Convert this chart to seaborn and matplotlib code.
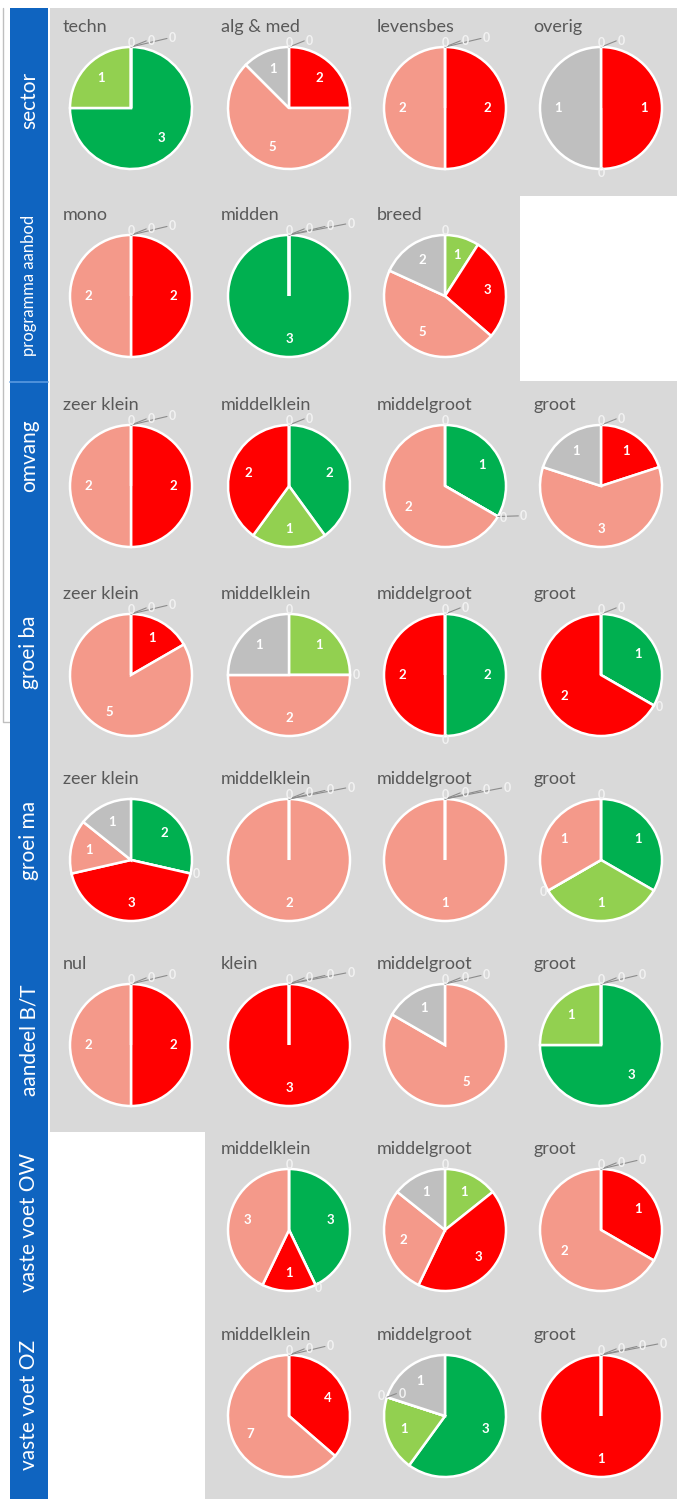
import matplotlib

matplotlib.use("Agg")
import numpy
import seaborn as sea
from matplotlib import pyplot
from matplotlib.lines import Line2D
from matplotlib.patches import Rectangle

# slice order, clockwise from 12 o'clock
slice_colors = ["#00B050", "#92D050", "#FF0000", "#F4998A", "#BFBFBF"]

sector_titles = ["techn", "alg & med", "levensbes", "overig"]
sector_counts = [[3, 1, 0, 0, 0], [0, 0, 2, 5, 1], [0, 0, 2, 2, 0], [0, 0, 1, 0, 1]]

aanbod_titles = ["mono", "midden", "breed"]
aanbod_counts = [[0, 0, 2, 2, 0], [3, 0, 0, 0, 0], [0, 1, 3, 5, 2]]

omvang_titles = ["zeer klein", "middelklein", "middelgroot", "groot"]
omvang_counts = [[0, 0, 2, 2, 0], [2, 1, 2, 0, 0], [1, 0, 0, 2, 0], [0, 0, 1, 3, 1]]

groei_ba_titles = ["zeer klein", "middelklein", "middelgroot", "groot"]
groei_ba_counts = [[0, 0, 1, 5, 0], [0, 1, 0, 2, 1], [2, 0, 2, 0, 0], [1, 0, 2, 0, 0]]

groei_ma_titles = ["zeer klein", "middelklein", "middelgroot", "groot"]
groei_ma_counts = [[2, 0, 3, 1, 1], [0, 0, 0, 2, 0], [0, 0, 0, 1, 0], [1, 1, 0, 1, 0]]

aandeel_titles = ["nul", "klein", "middelgroot", "groot"]
aandeel_counts = [[0, 0, 2, 2, 0], [0, 0, 3, 0, 0], [0, 0, 0, 5, 1], [3, 1, 0, 0, 0]]

voet_ow_titles = ["middelklein", "middelgroot", "groot"]
voet_ow_counts = [[3, 0, 1, 3, 0], [0, 1, 3, 2, 1], [0, 0, 1, 2, 0]]

voet_oz_titles = ["middelklein", "middelgroot", "groot"]
voet_oz_counts = [[0, 0, 4, 7, 0], [3, 1, 0, 0, 1], [0, 0, 1, 0, 0]]

rows = [
    ("sector", 0, sector_titles, sector_counts),
    ("programma aanbod", 0, aanbod_titles, aanbod_counts),
    ("omvang", 0, omvang_titles, omvang_counts),
    ("groei ba", 0, groei_ba_titles, groei_ba_counts),
    ("groei ma", 0, groei_ma_titles, groei_ma_counts),
    ("aandeel B/T", 0, aandeel_titles, aandeel_counts),
    ("vaste voet OW", 1, voet_ow_titles, voet_ow_counts),
    ("vaste voet OZ", 1, voet_oz_titles, voet_oz_counts),
]

# layout in pixels (top-left origin)
W, H = 684, 1499
R = 61
col_x = [131, 289, 445, 601]
row_y = [108, 296, 486, 675, 860, 1045, 1230, 1416]
label_y = [100, 285, 456, 652, 840, 1040, 1222, 1405]

sea.set_style("white")
pyplot.rcParams["font.family"] = ["Lato", "DejaVu Sans"]


def rect(x0, y0, x1, y1, **kw):
    return Rectangle((x0 / W, 1 - y1 / H), (x1 - x0) / W, (y1 - y0) / H,
                     zorder=-5, **kw)


def draw_pie(figure, cx, cy, title, counts):
    half = 90
    axis = figure.add_axes(
        [(cx - half) / W, 1 - (cy + half) / H, 2 * half / W, 2 * half / H]
    )
    axis.patch.set_alpha(0)
    wedges, _ = axis.pie(
        counts,
        colors=slice_colors,
        startangle=90,
        counterclock=False,
        wedgeprops=dict(edgecolor="white", linewidth=1.8),
    )
    lim = half / R
    axis.set_xlim(-lim, lim)
    axis.set_ylim(-lim, lim)
    axis.axis("off")

    groups = {}
    for w, value in zip(wedges, counts):
        span = w.theta2 - w.theta1
        if abs(span - 360) < 1e-6:
            # keep the radial seam at 12 o'clock like Excel
            w.set_theta2(w.theta2 - 0.01)
        if value > 0:
            mid = numpy.deg2rad((w.theta1 + w.theta2) / 2)
            axis.text(0.7 * numpy.cos(mid), 0.7 * numpy.sin(mid), str(value),
                      ha="center", va="center", color="white",
                      fontsize=9.5, fontweight="bold")
        else:
            a = numpy.deg2rad(w.theta1)
            key = (round(numpy.cos(a), 3), round(numpy.sin(a), 3))
            groups.setdefault(key, []).append(value)

    # zero-valued slices: labels stacked to the right with leader lines
    for (c, s), values in groups.items():
        for k, value in enumerate(values):
            x = 1.1 * c + 0.34 * k
            y = 1.06 * s + 0.04 * k
            if k > 0:
                axis.add_line(Line2D([c, x - 0.09], [s, y], color="#8C8C8C",
                                     lw=0.8, clip_on=False))
            axis.text(x, y, str(value), ha="center", va="center",
                      color="#F2F2F2", fontsize=9, fontweight="bold",
                      clip_on=False)

    figure.text((cx - 68) / W, 1 - (cy - 81) / H, title, ha="left",
                va="center", color="#595959", fontsize=13)


figure = pyplot.figure(figsize=(W / 100, H / 100), dpi=100)
figure.patch.set_facecolor("white")

# outer frame, grey panel, blank cells
figure.add_artist(Line2D([3 / W, 3 / W, 10 / W], [1 - 8 / H, 1 - 722 / H, 1 - 722 / H],
                         color="#BFBFBF", lw=1, zorder=-6))
figure.add_artist(rect(50, 8, 677, 1499, facecolor="#D9D9D9", edgecolor="none"))
figure.add_artist(rect(520, 196, 677, 381, facecolor="white", edgecolor="none"))
figure.add_artist(rect(50, 1132, 205, 1499, facecolor="white", edgecolor="none"))

# blue row header strip
figure.add_artist(rect(10, 8, 48, 1499, facecolor="#0F64C0", edgecolor="none"))
figure.add_artist(Line2D([10 / W, 48 / W], [1 - 382 / H, 1 - 382 / H],
                         color="#5A9AE0", lw=1.2, zorder=-4))

for r, (name, first_col, titles, counts_list) in enumerate(rows):
    size = 12 if name == "programma aanbod" else 15
    figure.text(29 / W, 1 - label_y[r] / H, name, rotation=90, ha="center",
                va="center", color="white", fontsize=size)
    for i, (title, counts) in enumerate(zip(titles, counts_list)):
        draw_pie(figure, col_x[first_col + i], row_y[r], title, counts)

figure.savefig("out.png", dpi=100)
